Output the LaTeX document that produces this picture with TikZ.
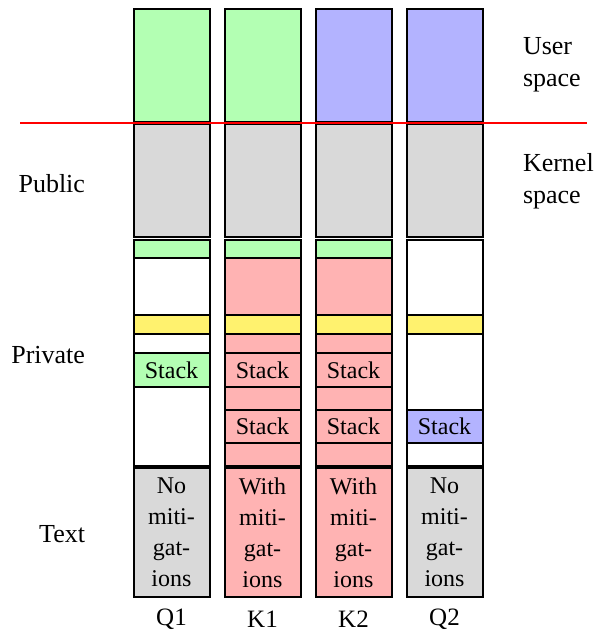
\documentclass[tikz,border=0pt]{standalone}
\usepackage{fontspec}
\setmainfont{Liberation Serif}
\definecolor{memgreen}{RGB}{179,255,179}
\definecolor{memblue}{RGB}{179,179,255}
\definecolor{memred}{RGB}{255,179,179}
\definecolor{memgray}{RGB}{217,217,217}
\definecolor{memyellow}{RGB}{255,242,110}

\begin{document}
\begin{tikzpicture}[x=0.5pt,y=-0.5pt,line width=1pt,
		sidelbl/.style={font=\fontsize{13}{16}\selectfont,align=left,inner sep=0pt},
		stackbox/.style={draw,minimum width=38pt,minimum height=16.6pt,inner sep=0pt,font=\fontsize{12}{15.5}\selectfont},
		textbox/.style={draw,minimum width=38pt,minimum height=64.5pt,inner sep=0pt,align=center,font=\fontsize{12}{15.5}\selectfont}]
		\useasboundingbox (0,0) rectangle (605,632);
		
		% user space
		\draw[fill=memgreen] (133.5,8.5) rectangle (209.5,122);
		\draw[fill=memgreen] (224.5,8.5) rectangle (300.5,122);
		\draw[fill=memblue] (315.5,8.5) rectangle (391.5,122);
		\draw[fill=memblue] (406.5,8.5) rectangle (482.5,122);
		
		% public
		\draw[fill=memgray] (133.5,124) rectangle (209.5,237);
		\draw[fill=memgray] (224.5,124) rectangle (300.5,237);
		\draw[fill=memgray] (315.5,124) rectangle (391.5,237);
		\draw[fill=memgray] (406.5,124) rectangle (482.5,237);
		
		% private
		\draw (133.5,240) rectangle (209.5,466);
		\draw[fill=memgreen] (133.5,240) rectangle (209.5,258);
		\draw[fill=memyellow] (133.5,315) rectangle (209.5,334);
		\node[stackbox,fill=memgreen] (q1stack) at (171.5,370) {Stack};
		
		\draw[fill=memred] (224.5,240) rectangle (300.5,466);
		\draw[fill=memgreen] (224.5,240) rectangle (300.5,258);
		\draw[fill=memyellow] (224.5,315) rectangle (300.5,334);
		\node[stackbox,fill=memred] (k1stacka) at (262.5,370) {Stack};
		\node[stackbox,fill=memred] (k1stackb) at (262.5,426.5) {Stack};
		
		\draw[fill=memred] (315.5,240) rectangle (391.5,466);
		\draw[fill=memgreen] (315.5,240) rectangle (391.5,258);
		\draw[fill=memyellow] (315.5,315) rectangle (391.5,334);
		\node[stackbox,fill=memred] (k2stacka) at (353.5,370) {Stack};
		\node[stackbox,fill=memred] (k2stackb) at (353.5,426.5) {Stack};
		
		\draw (406.5,240) rectangle (482.5,466);
		\draw[fill=memyellow] (406.5,315) rectangle (482.5,334);
		\node[stackbox,fill=memblue] (q2stack) at (444.5,426.5) {Stack};
		
		% text
		\node[textbox,fill=memgray] (q1text) at (171.5,532.5) {No\\miti-\\gat-\\ions};
		\node[textbox,fill=memred] (k1text) at (262.5,532.5) {With\\miti-\\gat-\\ions};
		\node[textbox,fill=memred] (k2text) at (353.5,532.5) {With\\miti-\\gat-\\ions};
		\node[textbox,fill=memgray] (q2text) at (444.5,532.5) {No\\miti-\\gat-\\ions};
		
		% column names
		\node[sidelbl,font=\fontsize{12.5}{15}\selectfont] (q1) at (171.5,619) {Q1};
		\node[sidelbl,font=\fontsize{12.5}{15}\selectfont] (k1) at (262.5,619) {K1};
		\node[sidelbl,font=\fontsize{12.5}{15}\selectfont] (k2) at (353.5,619) {K2};
		\node[sidelbl,font=\fontsize{12.5}{15}\selectfont] (q2) at (444.5,619) {Q2};
		
		% region names
		\node[sidelbl,anchor=east] (public) at (86,184) {Public};
		\node[sidelbl,anchor=east] (private) at (86,355) {Private};
		\node[sidelbl,anchor=east] (text) at (86,534) {Text};
		\node[sidelbl,anchor=west] (user) at (522,65) {User\\space};
		\node[sidelbl,anchor=west] (kernel) at (522,181) {Kernel\\space};
		
		% boundary
		\coordinate (splitw) at (20,123);
		\coordinate (splite) at (587,123);
		\draw[red] (splitw) -- (splite);
		\end{tikzpicture}
\end{document}
